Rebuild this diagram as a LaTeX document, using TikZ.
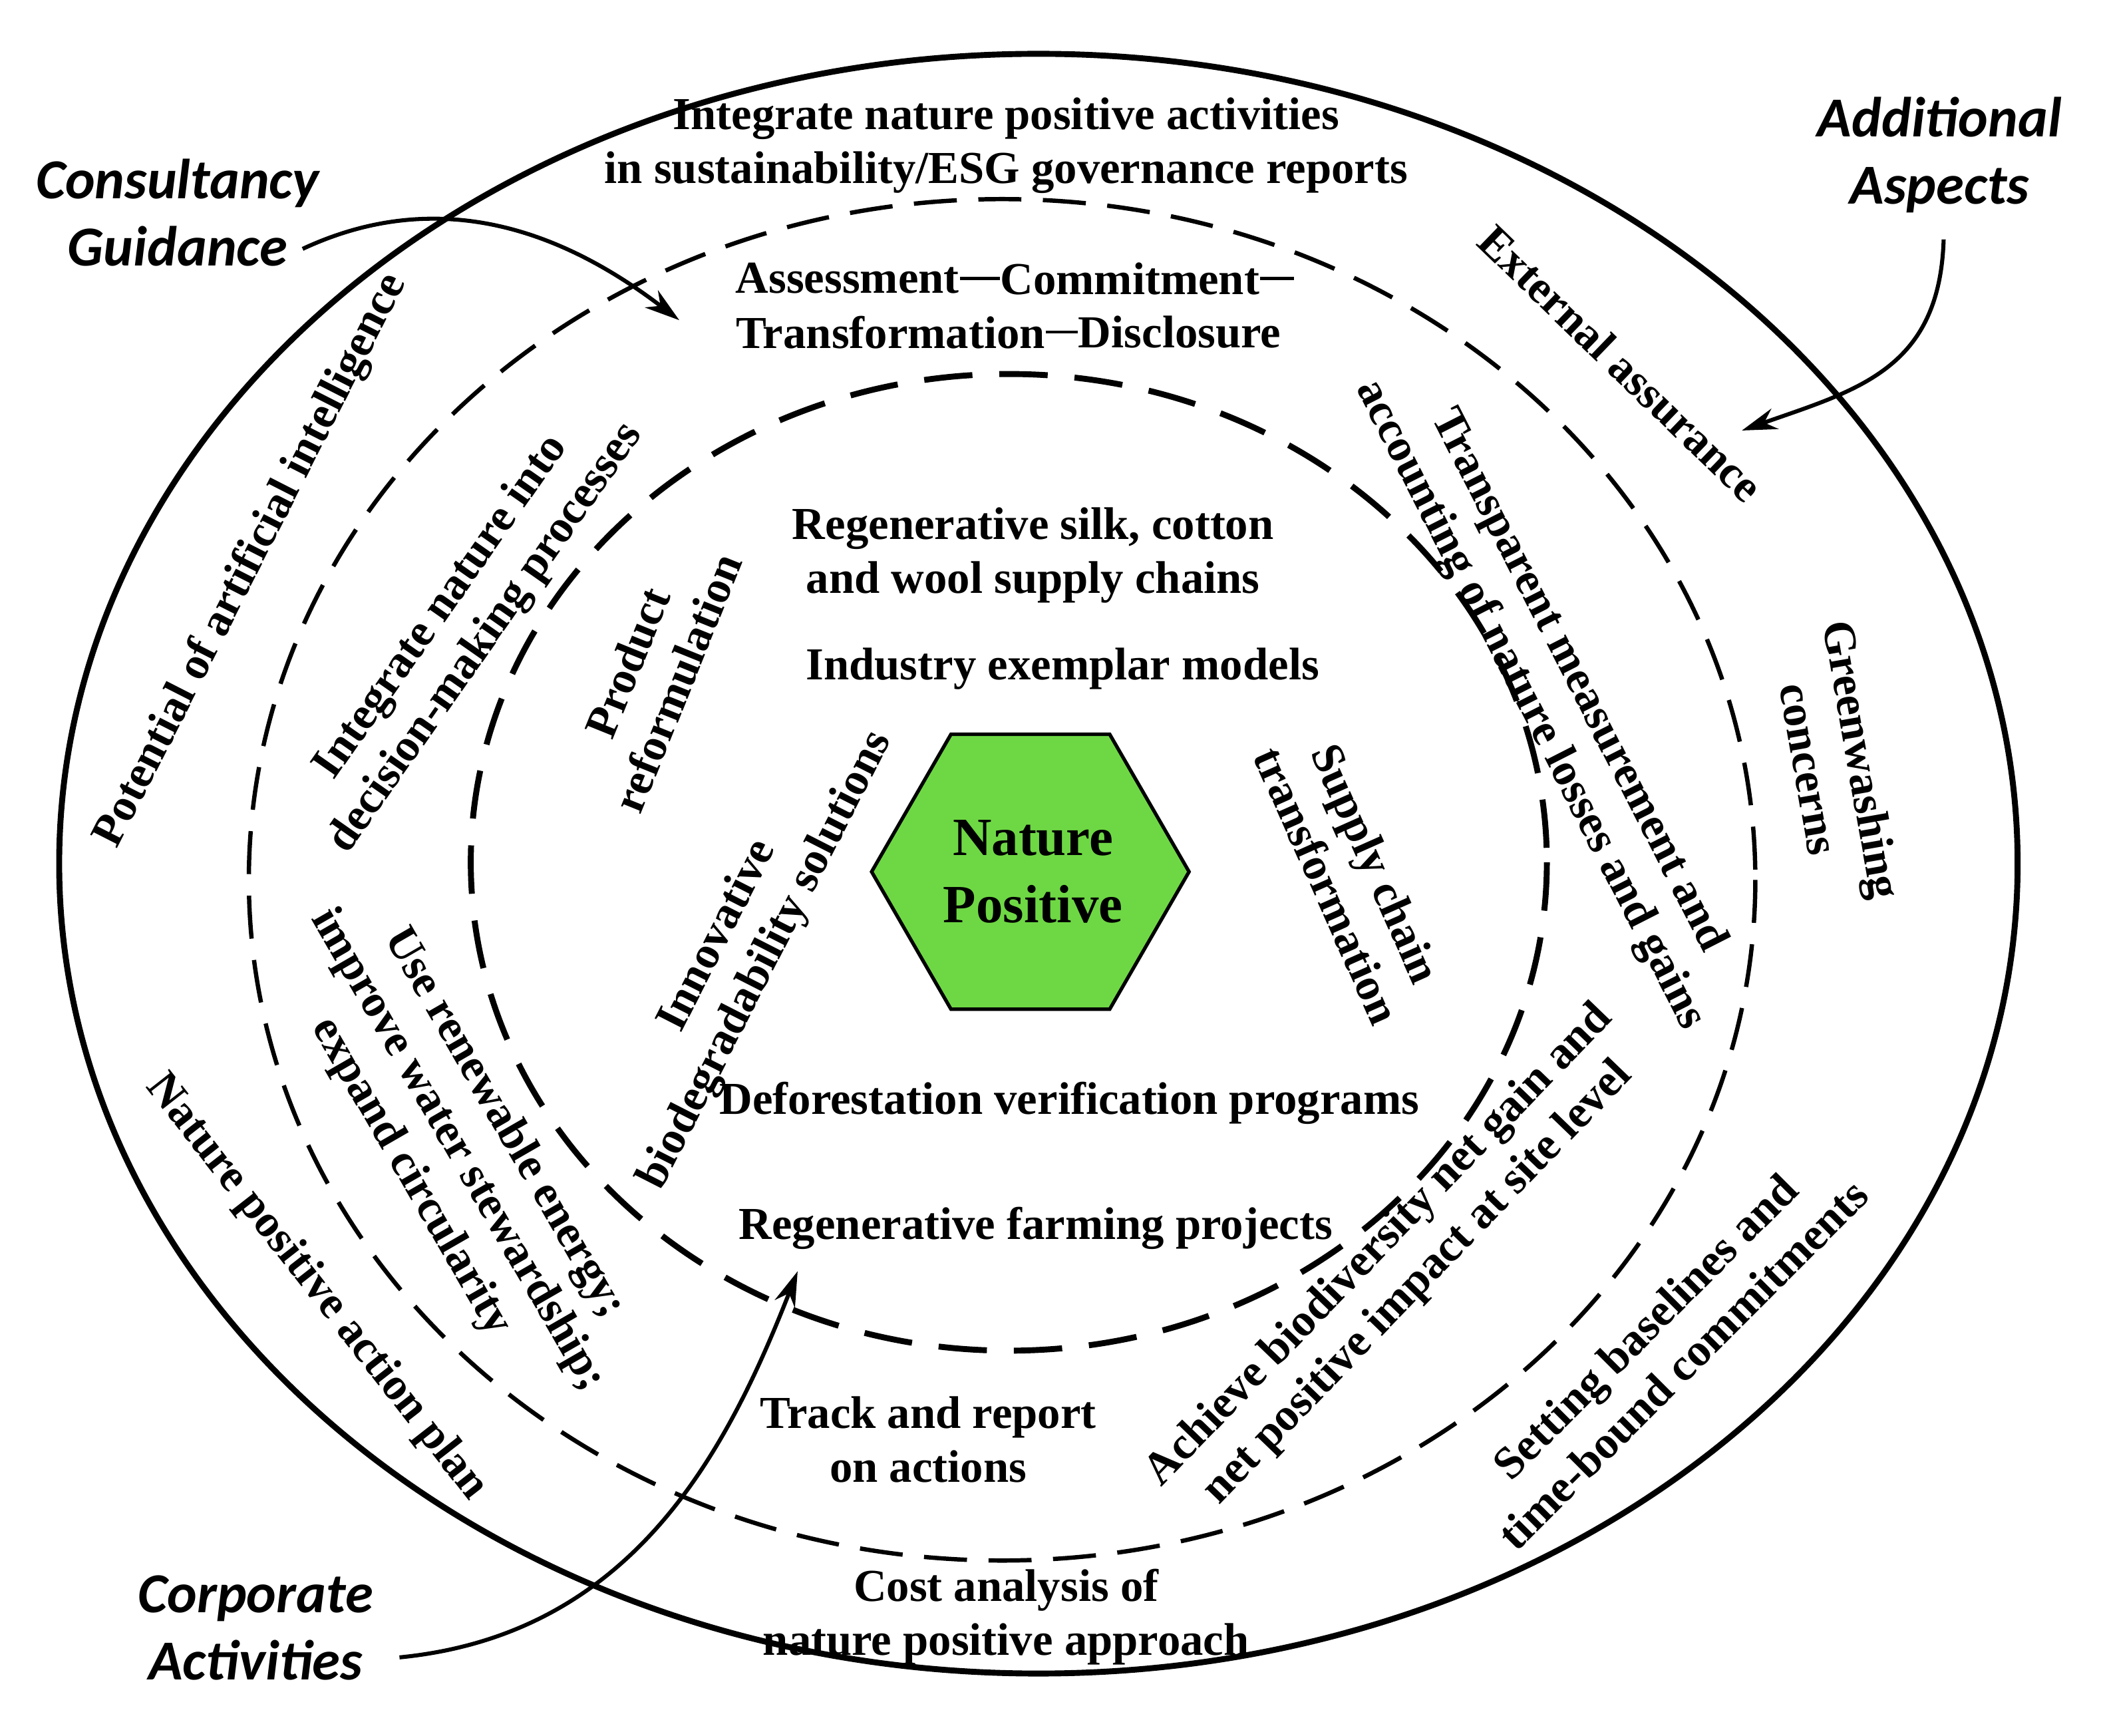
\documentclass[tikz,border=0pt]{standalone}
\usepackage{fontspec}
\setmainfont{Liberation Serif}
\newfontfamily\lab{Carlito}
\usetikzlibrary{arrows.meta,shapes.geometric}
\begin{document}
\begin{tikzpicture}[x=0.5pt,y=-0.5pt,
  t/.style={font=\bfseries\fontsize{17}{20}\selectfont,align=center,inner sep=0pt},
  l/.style={font=\lab\bfseries\itshape\fontsize{21}{25}\selectfont,align=center,inner sep=0pt},
  arr/.style={line width=1.5pt,-{Stealth[length=13pt,width=8pt]}}]
\useasboundingbox (0,0) rectangle (1562,1290);
\draw[line width=2.2pt] (772,642) ellipse [x radius=728,y radius=602];
\draw[line width=1.6pt,dash pattern=on 16pt off 8pt] (745,654) ellipse [x radius=560,y radius=506];
\draw[line width=2.2pt,dash pattern=on 18pt off 10pt] (750,641) ellipse [x radius=400,y radius=363];
\node[regular polygon,regular polygon sides=6,minimum size=118pt,draw,line width=1.3pt,fill={rgb,255:red,110;green,216;blue,68},inner sep=0pt] (hex) at (766,648) {};
\node[t,font=\bfseries\fontsize{20}{25}\selectfont] (np) at (768,648) {Nature\\Positive};

\node[t] (top) at (748,108) {Integrate nature positive activities\\in sustainability/ESG governance reports};
\node[t] (as) at (630,207) {Assessment};
\node[t] (co) at (840,207) {Commitment};
\node[t] (tr) at (662,247) {Transformation};
\node[t] (di) at (877,247) {Disclosure};
\coordinate (coe) at (962,207);
\draw[line width=1pt] (as.east) -- (co.west);
\draw[line width=1pt] (co.east) -- (coe);
\draw[line width=1pt] (tr.east) -- (di.west);

\node[t] (silk) at (768,413) {Regenerative silk, cotton\\and wool supply chains};
\node[t] (ind) at (790,497) {Industry exemplar models};
\node[t] (def) at (795,820) {Deforestation verification programs};
\node[t] (farm) at (770,913) {Regenerative farming projects};
\node[t] (track) at (690,1070) {Track and report\\on actions};
\node[t] (cost) at (748,1202) {Cost analysis of\\nature positive approach};

\node[t,rotate=63] (ai) at (187,417) {Potential of artificial intelligence};
\node[t,rotate=55] (dec) at (345,463) {Integrate nature into\\decision-making processes};
\node[t,rotate=68] (prod) at (485,500) {Product\\reformulation};
\node[t,rotate=63] (bio) at (552,705) {Innovative\\biodegradability solutions};
\node[t,rotate=-66] (sup) at (1005,650) {Supply chain\\transformation};
\node[t,rotate=-63] (trans) at (1155,515) {Transparent measurement and\\accounting of nature losses and gains};
\node[t,rotate=-44] (ext) at (1205,270) {External assurance};
\node[t,rotate=-80] (green) at (1365,568) {Greenwashing\\concerns};
\node[t,rotate=46] (ach) at (1040,940) {Achieve biodiversity net gain and\\net positive impact at site level};
\node[t,rotate=45] (set) at (1237,1000) {Setting baselines and\\time-bound commitments};
\node[t,rotate=-52] (plan) at (235,957) {Nature positive action plan};
\node[t,rotate=-60] (ren) at (340,855) {Use renewable energy;\\improve water stewardship;\\expand circularity};

\node[l] (cons) at (132,158) {Consultancy\\Guidance};
\node[l] (add) at (1442,115) {Additional\\Aspects};
\node[l] (corp) at (190,1210) {Corporate\\Activities};
\coordinate (ca) at (505,238);
\coordinate (aa) at (1295,320);
\coordinate (pa) at (593,945);
\coordinate (cs) at (225,185);
\coordinate (as2) at (1445,178);
\coordinate (ps) at (297,1232);
\draw[arr] (cs) .. controls (300,150) and (390,150) .. (ca);
\draw[arr] (as2) .. controls (1442,275) and (1380,290) .. (aa);
\draw[arr] (ps) .. controls (470,1215) and (540,1080) .. (pa);
\end{tikzpicture}
\end{document}
